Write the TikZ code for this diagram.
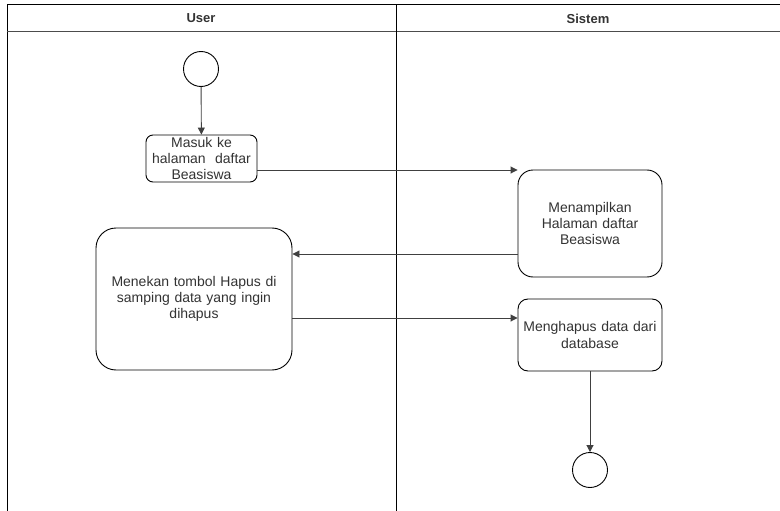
\documentclass[tikz,border=0pt]{standalone}
\usepackage{fontspec}
\setmainfont{Liberation Sans}
\usetikzlibrary{arrows.meta}
\definecolor{txt}{HTML}{333333}
\begin{document}
\begin{tikzpicture}[x=1pt,y=-1pt,
  act/.style={draw=black, line width=0.9pt, fill=white, align=center, text=txt, font=\fontsize{14}{16.3}\selectfont, inner sep=1pt},
  startend/.style={draw=black, line width=0.9pt, circle, minimum size=35pt, inner sep=0pt, fill=white},
  flow/.style={draw=black!75, line width=0.9pt, -{Triangle[length=7pt,width=7pt]}},
  frame/.style={draw=black, line width=1pt},
  hdr/.style={font=\bfseries\fontsize{13}{15}\selectfont, text=txt}
]
\useasboundingbox (0,0) rectangle (780,511);
\fill[white] (0,0) rectangle (780,511);
% swimlane frame
\draw[frame] (7,520) -- (7,5) -- (790,5);
\draw[frame, draw=black!70] (7,32) -- (790,32);
\draw[frame] (396,5) -- (396,520);
\node[hdr] (huser) at (201,18.5) {User};
\node[hdr] (hsis) at (588,18.5) {Sistem};

% nodes
\node[startend] (start) at (201,69) {};
\node[act, rounded corners=7pt, minimum width=111pt, minimum height=47pt, text width=109pt] (a1) at (201.5,158.5) {Masuk ke\\halaman\ \ daftar\\Beasiswa};
\node[act, rounded corners=15pt, minimum width=144pt, minimum height=107pt, text width=140pt] (a2) at (590,223.5) {Menampilkan\\Halaman daftar\\Beasiswa};
\node[act, rounded corners=20pt, minimum width=196pt, minimum height=142pt, text width=190pt] (a3) at (194,299) {Menekan tombol Hapus di\\samping data yang ingin\\dihapus};
\node[act, rounded corners=10pt, minimum width=144pt, minimum height=72pt, text width=142pt] (a4) at (590,335) {Menghapus data dari\\database};
\node[startend] (end) at (590,470) {};

% connectors
\coordinate (p1) at (a1.east |- 0,170);
\coordinate (q1) at (a2.west |- 0,170);
\draw[flow] (start) -- (a1);
\draw[flow] (p1) -- (q1);
\coordinate (p2) at (a2.west |- 0,254);
\coordinate (q2) at (a3.east |- 0,254);
\draw[flow] (p2) -- (q2);
\coordinate (p3) at (a3.east |- 0,318);
\coordinate (q3) at (a4.west |- 0,318);
\draw[flow] (p3) -- (q3);
\draw[flow] (a4) -- (end);
\end{tikzpicture}
\end{document}
